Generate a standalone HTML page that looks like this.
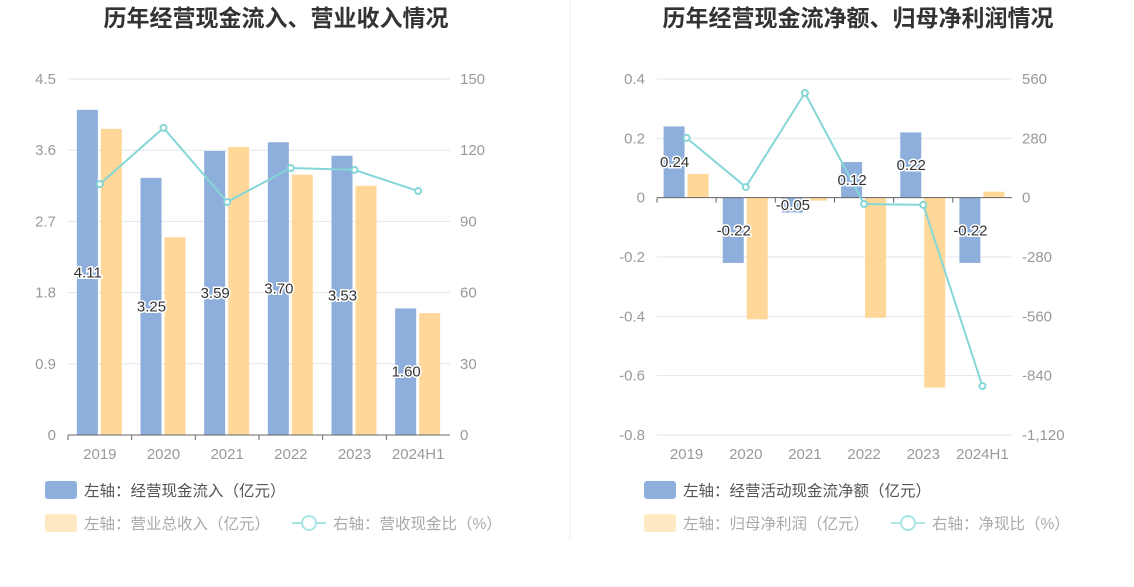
<!DOCTYPE html>
<html><head><meta charset="utf-8"><style>
body{margin:0;background:#fff;font-family:"Liberation Sans","Noto Sans CJK SC",sans-serif;}
svg text{font-family:"Liberation Sans","Noto Sans CJK SC",sans-serif;}
</style></head><body>
<svg id="s" width="1134" height="582">
<line x1="570" y1="0" x2="570" y2="540" stroke="#eee"/>
<text x="276" y="26" text-anchor="middle" font-size="23" font-weight="bold" fill="#333">历年经营现金流入、营业收入情况</text>
<text x="858" y="26" text-anchor="middle" font-size="23" font-weight="bold" fill="#333">历年经营现金流净额、归母净利润情况</text>
<g id="c1"></g><g id="c2"></g>
<g>
<rect x="45" y="481" width="32" height="18" rx="3" fill="#8eaedc"/>
<text x="84" y="496" font-size="15.5" fill="#555">左轴：经营现金流入（亿元）</text>
<rect x="45" y="514" width="32" height="18" rx="3" fill="#ffe9c2"/>
<text x="84" y="529" font-size="15.5" fill="#aaa">左轴：营业总收入（亿元）</text>
<line x1="292" y1="523" x2="326" y2="523" stroke="#a8e6e6" stroke-width="2"/>
<circle cx="309" cy="523" r="7" fill="#fff" stroke="#a8e6e6" stroke-width="2"/>
<text x="333" y="529" font-size="15.5" fill="#aaa">右轴：营收现金比（%）</text>
</g>
<g>
<rect x="644" y="481" width="32" height="18" rx="3" fill="#8eaedc"/>
<text x="683" y="496" font-size="15.5" fill="#555">左轴：经营活动现金流净额（亿元）</text>
<rect x="644" y="514" width="32" height="18" rx="3" fill="#ffe9c2"/>
<text x="683" y="529" font-size="15.5" fill="#aaa">左轴：归母净利润（亿元）</text>
<line x1="891" y1="523" x2="925" y2="523" stroke="#a8e6e6" stroke-width="2"/>
<circle cx="908" cy="523" r="7" fill="#fff" stroke="#a8e6e6" stroke-width="2"/>
<text x="932" y="529" font-size="15.5" fill="#aaa">右轴：净现比（%）</text>
</g>
</svg>
<script>
const categories=["2019","2020","2021","2022","2023","2024H1"];
const inflow=[4.11,3.25,3.59,3.70,3.53,1.60];
const revenue=[3.87,2.50,3.64,3.29,3.15,1.54];
const cashRatio=[105.7,129.4,98.2,112.5,111.7,102.8];
const leftTicks1=["0","0.9","1.8","2.7","3.6","4.5"];
const rightTicks1=["0","30","60","90","120","150"];
const netCash=[0.24,-0.22,-0.05,0.12,0.22,-0.22];
const netProfit=[0.08,-0.41,-0.01,-0.405,-0.64,0.02];
const netRatio=[282,50,494,-30,-34,-889];
const leftTicks2=["-0.8","-0.6","-0.4","-0.2","0","0.2","0.4"];
const rightTicks2=["-1,120","-840","-560","-280","0","280","560"];
const NS="http://www.w3.org/2000/svg";
function mk(p,t,a,txt){const e=document.createElementNS(NS,t);for(const k in a)e.setAttribute(k,a[k]);if(txt!=null)e.textContent=txt;p.appendChild(e);return e;}
function chart(g,o){
 const top=79,bot=435,x0=o.x0,x1=o.x1,bw=(x1-x0)/categories.length;
 const yL=v=>bot-(v-o.lmin)/(o.lmax-o.lmin)*(bot-top);
 const yR=v=>bot-(v-o.rmin)/(o.rmax-o.rmin)*(bot-top);
 const xc=i=>x0+bw*(i+0.5);
 o.lt.forEach((t,i)=>{const y=top+(bot-top)*(1-i/(o.lt.length-1));
  const l=mk(g,'line',{x1:x0,x2:x1,y1:y,y2:y,stroke:'#e3e6f0'});
  
  const a=mk(g,'text',{x:x0-12,y:y+5,'text-anchor':'end','font-size':15,fill:'#999'},t);
  
  const b=mk(g,'text',{x:x1+10,y:y+5,'font-size':15,fill:'#999'},o.rt[i]);
  });
 const zy=yL(0);
 categories.forEach((c,i)=>{
  const a=mk(g,'rect',{x:xc(i)-23,width:21,y:Math.min(yL(o.b[i]),zy),height:Math.abs(yL(o.b[i])-zy),fill:'#8eaedc'});
  
  const b=mk(g,'rect',{x:xc(i)+1,width:21,y:Math.min(yL(o.o[i]),zy),height:Math.max(1,Math.abs(yL(o.o[i])-zy)),fill:'#ffd899'});
  
  const t=mk(g,'text',{x:x0+bw*i+bw/2,y:bot+24,'text-anchor':'middle','font-size':15,fill:'#999'},c);
  
  const tk=mk(g,'line',{x1:x0+bw*i,x2:x0+bw*i,y1:zy,y2:zy+5,stroke:'#666'});
  
 });
 const ax=mk(g,'line',{x1:x0,x2:x1,y1:zy,y2:zy,stroke:'#666'});
 
 const pts=o.l.map((v,i)=>xc(i)+','+yR(v)).join(' ');
 const pl=mk(g,'polyline',{points:pts,fill:'none',stroke:'#85d6d6','stroke-width':2});
 
 o.l.forEach((v,i)=>{const c=mk(g,'circle',{cx:xc(i),cy:yR(v),r:3,fill:'#fff',stroke:'#85d6d6','stroke-width':2});
  });
 o.b.forEach((v,i)=>{const y=(yL(v)+zy)/2+5;
  const t=mk(g,'text',{x:xc(i)-12,y:y,'text-anchor':'middle','font-size':15,fill:'#333',stroke:'#fff','stroke-width':3,'paint-order':'stroke'},v.toFixed(2));
  });
}
chart(document.getElementById('c1'),{x0:68,x1:450,lmin:0,lmax:4.5,rmin:0,rmax:150,lt:leftTicks1,rt:rightTicks1,b:inflow,o:revenue,l:cashRatio});
chart(document.getElementById('c2'),{x0:657,x1:1012,lmin:-0.8,lmax:0.4,rmin:-1120,rmax:560,lt:leftTicks2,rt:rightTicks2,b:netCash,o:netProfit,l:netRatio});
</script>
</body></html>
